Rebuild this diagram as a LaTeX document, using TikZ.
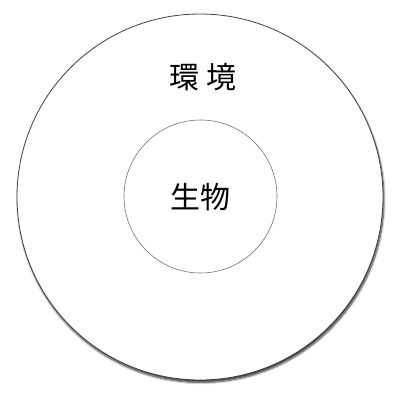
\documentclass[tikz,border=0pt]{standalone}
\usepackage{fontspec}
\newfontfamily\cjk{Noto Sans CJK JP}
\usetikzlibrary{shadows.blur}
\begin{document}
\begin{tikzpicture}[x=1pt,y=-1pt,
  outer/.style={circle, draw=black!75, line width=0.8pt, fill=white, minimum size=366pt, inner sep=0pt,
    blur shadow={shadow xshift=1pt, shadow yshift=-2.5pt, shadow blur radius=2pt, shadow blur steps=8, shadow opacity=80}},
  inner/.style={circle, draw=black!55, line width=0.6pt, fill=white, minimum size=153pt, inner sep=0pt},
  lbl/.style={font=\cjk\fontsize{30}{36}\selectfont, inner sep=0pt}]
\useasboundingbox (0,0) rectangle (400,400);
\node[outer] (env) at (200,197) {};
\node[inner] (org) at (200.5,196.5) {};
\node[lbl] (envl) at (203,77) {環\hspace{0.25em}境};
\node[lbl] (orgl) at (201,197) {生物};
\end{tikzpicture}
\end{document}
